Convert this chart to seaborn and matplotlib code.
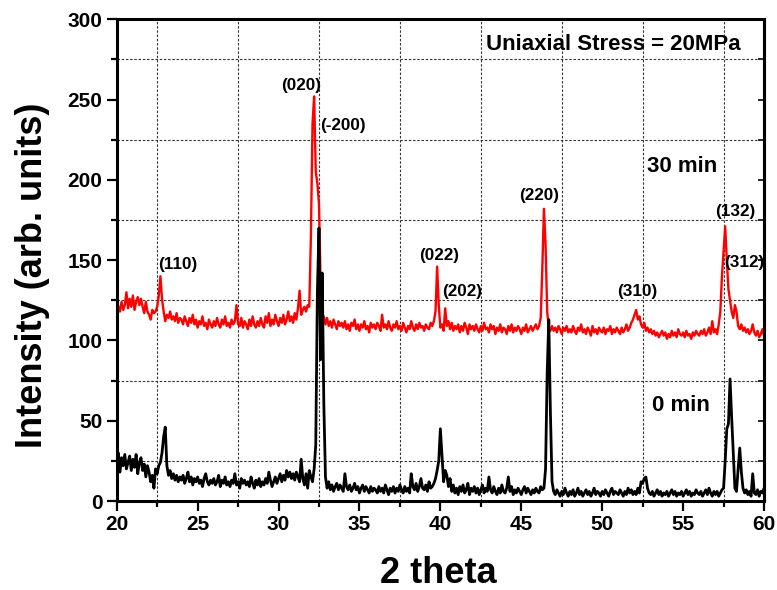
import numpy as np
import pandas as pd
import matplotlib
matplotlib.use("Agg")
import matplotlib.pyplot as plt
from matplotlib.ticker import MultipleLocator
import seaborn as sns

# ---------------- data ----------------
two_theta = np.round(np.arange(20.0, 60.05, 0.1), 1)

intensity_30min = [
    125, 121, 118, 124, 119, 122, 130, 120, 126, 121,   # 20
    128, 119, 124, 127, 122, 126, 121, 117, 124, 118,   # 21
    116, 113, 119, 117, 118, 121, 128, 140, 126, 118,   # 22
    112, 116, 114, 118, 113, 115, 112, 117, 111, 114,   # 23
    113, 110, 115, 112, 109, 114, 111, 116, 110, 113,   # 24
    108, 112, 110, 115, 109, 111, 107, 113, 110, 108,   # 25
    112, 109, 114, 110, 108, 113, 110, 115, 109, 111,   # 26
    108, 113, 110, 112, 122, 110, 109, 114, 108, 112,   # 27
    110, 107, 113, 109, 115, 110, 108, 112, 109, 114,   # 28
    110, 108, 115, 111, 117, 109, 113, 110, 116, 112,   # 29
    109, 114, 111, 116, 110, 113, 118, 112, 115, 111,   # 30
    117, 113, 120, 131, 116, 119, 121, 118, 122, 121,   # 31
    165, 235, 252, 205, 198, 185, 135, 112, 115, 110,   # 32
    114, 109, 112, 108, 113, 110, 107, 112, 109, 111,   # 33
    108, 112, 107, 110, 106, 111, 109, 113, 107, 110,   # 34
    106, 110, 108, 112, 107, 109, 105, 111, 108, 110,   # 35
    107, 111, 109, 106, 116, 108, 110, 107, 112, 108,   # 36
    106, 110, 108, 112, 107, 109, 106, 111, 108, 105,   # 37
    109, 107, 112, 108, 106, 110, 107, 111, 108, 109,   # 38
    106, 110, 108, 107, 111, 109, 112, 118, 146, 122,   # 39
    108, 110, 106, 120, 109, 112, 107, 111, 106, 109,   # 40
    107, 110, 105, 109, 106, 111, 108, 104, 110, 107,   # 41
    109, 106, 110, 107, 105, 109, 106, 111, 107, 108,   # 42
    105, 110, 107, 109, 104, 108, 106, 110, 105, 108,   # 43
    107, 104, 109, 106, 110, 105, 108, 106, 109, 107,   # 44
    104, 108, 106, 110, 105, 107, 109, 106, 108, 110,   # 45
    107, 109, 114, 145, 182, 160, 118, 108, 106, 109,   # 46
    106, 108, 105, 109, 107, 104, 108, 106, 109, 105,   # 47
    107, 105, 109, 106, 104, 108, 106, 110, 105, 107,   # 48
    104, 108, 106, 103, 109, 105, 107, 104, 108, 106,   # 49
    105, 108, 104, 107, 106, 109, 104, 107, 105, 108,   # 50
    106, 104, 108, 105, 107, 110, 106, 108, 111, 113,   # 51
    116, 119, 113, 115, 110, 108, 111, 106, 108, 105,   # 52
    107, 104, 106, 103, 105, 102, 104, 106, 103, 105,   # 53
    101, 104, 102, 106, 103, 105, 102, 107, 104, 103,   # 54
    105, 102, 106, 103, 104, 101, 105, 103, 106, 104,   # 55
    103, 106, 104, 107, 103, 105, 108, 104, 112, 105,   # 56
    107, 104, 110, 118, 140, 155, 171, 150, 132, 125,   # 57
    118, 114, 122, 118, 109, 107, 110, 106, 108, 105,   # 58
    107, 104, 106, 110, 105, 103, 106, 102, 104, 107,   # 59
    103,                                                # 60
]

intensity_0min = [
    25, 30, 18, 27, 22, 29, 20, 24, 28, 19,   # 20
    26, 21, 29, 17, 24, 27, 19, 23, 15, 22,   # 21
    18, 12, 16, 8, 20, 17, 22, 24, 30, 40,    # 22
    46, 22, 16, 19, 14, 17, 13, 16, 12, 15,   # 23
    13, 16, 11, 14, 18, 12, 15, 10, 14, 12,   # 24
    15, 11, 13, 9, 14, 17, 12, 10, 13, 11,    # 25
    14, 10, 12, 16, 9, 13, 11, 15, 10, 12,    # 26
    9, 13, 11, 17, 10, 12, 8, 14, 11, 13,     # 27
    10, 12, 9, 15, 11, 8, 13, 10, 14, 9,      # 28
    12, 10, 14, 11, 18, 13, 9, 12, 15, 11,    # 29
    14, 17, 12, 16, 13, 19, 15, 18, 14, 17,   # 30
    13, 18, 15, 12, 26, 14, 10, 17, 8, 19,    # 31
    15, 12, 20, 35, 130, 170, 88, 142, 60, 15,  # 32
    8, 12, 7, 10, 6, 9, 11, 7, 10, 8,         # 33
    6, 17, 9, 7, 10, 6, 8, 11, 7, 9,          # 34
    5, 8, 10, 6, 9, 7, 5, 9, 6, 8,            # 35
    7, 5, 9, 6, 8, 5, 10, 7, 4, 8,            # 36
    6, 9, 5, 8, 6, 10, 7, 5, 9, 6,            # 37
    8, 5, 17, 9, 7, 11, 6, 9, 14, 8,          # 38
    7, 10, 6, 12, 8, 9, 11, 14, 19, 25,       # 39
    45, 28, 12, 19, 16, 9, 14, 6, 10, 5,      # 40
    8, 4, 9, 6, 10, 5, 7, 11, 4, 8,           # 41
    6, 9, 5, 8, 4, 7, 10, 5, 8, 6,            # 42
    15, 7, 5, 9, 6, 4, 8, 5, 10, 6,           # 43
    5, 8, 15, 6, 9, 4, 7, 5, 8, 6,            # 44
    4, 7, 9, 5, 8, 6, 4, 7, 5, 8,             # 45
    6, 5, 9, 7, 8, 20, 80, 113, 55, 12,       # 46
    6, 4, 7, 5, 3, 6, 4, 8, 5, 3,             # 47
    6, 4, 7, 3, 5, 8, 4, 6, 3, 5,             # 48
    7, 4, 6, 3, 5, 8, 4, 6, 5, 3,             # 49
    6, 4, 7, 5, 3, 6, 8, 4, 6, 5,             # 50
    4, 7, 5, 3, 6, 4, 8, 5, 7, 4,             # 51
    6, 4, 8, 5, 12, 11, 14, 15, 8, 5,         # 52
    4, 6, 3, 5, 7, 4, 6, 3, 5, 4,             # 53
    6, 3, 5, 7, 4, 6, 3, 5, 4, 6,             # 54
    3, 5, 7, 4, 6, 3, 5, 4, 7, 5,             # 55
    4, 6, 3, 5, 7, 4, 8, 5, 3, 6,             # 56
    4, 6, 3, 5, 7, 8, 25, 45, 48, 76,         # 57
    52, 30, 8, 6, 20, 33, 18, 8, 5, 7,        # 58
    4, 6, 3, 17, 5, 4, 7, 3, 6, 5,            # 59
    8,                                        # 60
]

series_names = ["30 min", "0 min"]
peak_labels = ["(110)", "(020)", "(-200)", "(022)", "(202)", "(220)",
               "(310)", "(132)", "(312)"]
x_ticks = [20, 25, 30, 35, 40, 45, 50, 55, 60]
y_ticks = [0, 50, 100, 150, 200, 250, 300]

assert len(intensity_30min) == len(two_theta) == len(intensity_0min)

# ---------------- figure ----------------
sns.set_style("ticks")
plt.rcParams["font.family"] = ["Liberation Sans", "DejaVu Sans"]
plt.rcParams["font.weight"] = "bold"
plt.rcParams["text.color"] = "black"
plt.rcParams["axes.labelcolor"] = "black"
plt.rcParams["xtick.color"] = "black"
plt.rcParams["ytick.color"] = "black"

n = len(two_theta)
df = pd.DataFrame({
    "two_theta": np.concatenate([two_theta, two_theta]),
    "intensity": list(intensity_30min) + list(intensity_0min),
    "series": [series_names[0]] * n + [series_names[1]] * n,
})

fig = plt.figure(figsize=(7.77, 5.90), dpi=100)
ax = fig.add_axes([0.1502, 0.1508, 0.8331, 0.8165])

sns.lineplot(data=df, x="two_theta", y="intensity", hue="series",
             hue_order=series_names,
             palette={series_names[0]: "#ff0000", series_names[1]: "#000000"},
             legend=False, errorbar=None, ax=ax)
# line widths: red thinner, black a bit heavier
widths = [1.7, 2.0]
for line, w in zip(ax.get_lines(), widths):
    line.set_linewidth(w)

ax.set_xlim(20, 60)
ax.set_ylim(0, 300)
ax.set_xticks(x_ticks)
ax.set_yticks(y_ticks)
ax.xaxis.set_minor_locator(MultipleLocator(2.5))
ax.yaxis.set_minor_locator(MultipleLocator(25))
ax.set_xlabel("")
ax.set_ylabel("")

ax.grid(False, which="major")
ax.grid(True, which="minor", linestyle=(0, (2.2, 1.6)), color="#333333",
        linewidth=0.8)
ax.set_axisbelow(True)

for side in ["left", "bottom", "right", "top"]:
    ax.spines[side].set_visible(True)
    ax.spines[side].set_linewidth(2.2)
    ax.spines[side].set_color("black")

ax.tick_params(which="major", direction="out", length=7.2, width=1.6,
               labelsize=15, pad=3, colors="black")
ax.tick_params(which="minor", direction="out", length=4.5, width=1.6)
for lab in ax.get_xticklabels() + ax.get_yticklabels():
    lab.set_fontweight("bold")
    lab.set_color("black")

# inward ticks on the right side
sec = ax.secondary_yaxis("right")
sec.set_yticks(y_ticks)
sec.yaxis.set_minor_locator(MultipleLocator(25))
sec.tick_params(which="both", direction="in", length=4, width=1.2,
                labelright=False)
sec.spines["right"].set_linewidth(2.2)

# annotations
ann_style = dict(fontsize=12.3, fontweight="bold", ha="center", va="center",
                 color="black")
ann_pos = [(23.77, 147), (31.37, 259), (33.97, 234), (39.94, 152.6),
           (41.33, 130.3), (46.08, 190), (52.14, 130.3), (58.22, 180.2),
           (58.78, 148.7)]
for lab, (px, py) in zip(peak_labels, ann_pos):
    ax.text(px, py, lab, **ann_style)

ax.text(50.67, 284, "Uniaxial Stress = 20MPa", fontsize=16,
        fontweight="bold", ha="center", va="center", color="black")
ax.text(54.93, 208.2, "30 min", fontsize=16, fontweight="bold",
        ha="center", va="center", color="black")
ax.text(54.85, 59.2, "0 min", fontsize=16, fontweight="bold",
        ha="center", va="center", color="black")

fig.text(33 / 777, 1 - 275 / 590, "Intensity (arb. units)", rotation=90,
         ha="center", va="center", fontsize=26, fontweight="bold",
         color="black")
fig.text(438 / 777, 1 - 583 / 590, "2 theta", ha="center", va="baseline",
         fontsize=26, fontweight="bold", color="black")

fig.savefig("out.png", dpi=100)
